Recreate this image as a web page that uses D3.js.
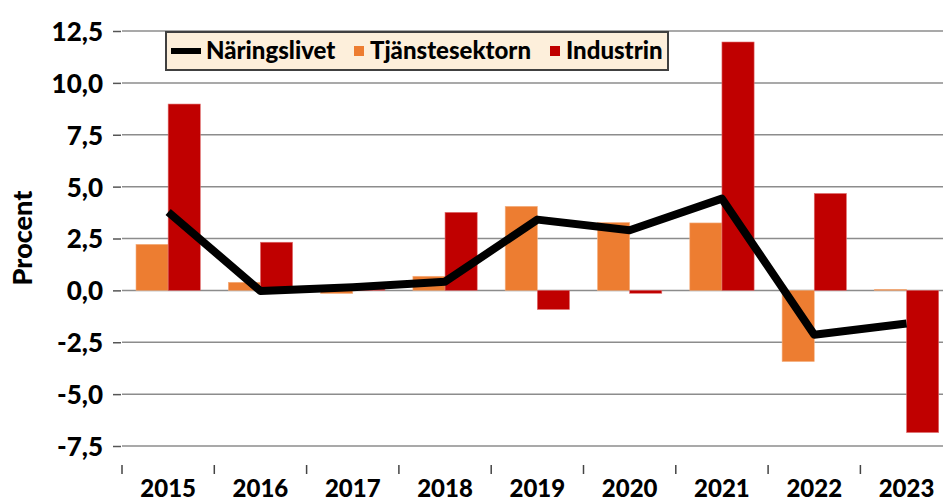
<!DOCTYPE html>
<html>
<head>
<meta charset="utf-8">
<script src="https://cdn.jsdelivr.net/npm/d3@7"></script>
<style>
  body { margin: 0; background: #fff; }
  svg { display: block; overflow: hidden; }
  text { font-family: Lato, "Open Sans", sans-serif; font-weight: 900; fill: #000; }
</style>
</head>
<body>
<svg id="chart" width="943" height="503"></svg>
<script>
var years = ["2015", "2016", "2017", "2018", "2019", "2020", "2021", "2022", "2023"];
var naringslivet = [3.78, -0.03, 0.15, 0.42, 3.41, 2.9, 4.42, -2.14, -1.6];
var tjanstesektorn = [2.22, 0.39, -0.15, 0.68, 4.05, 3.27, 3.25, -3.43, 0.05];
var industrin = [8.98, 2.32, 0.06, 3.76, -0.92, -0.14, 11.97, 4.67, -6.85];
var yTicks = [-7.5, -5, -2.5, 0, 2.5, 5, 7.5, 10, 12.5];

var svg = d3.select("#chart"),
    left = 122, top = 12, bottom = 465,
    band = 92.3;

var x = d3.scaleBand().domain(years).range([left, left + band * years.length]);
var xs = d3.scaleBand().domain(["t", "i"]).range([14, x.bandwidth() - 14]);
var y = d3.scaleLinear().domain([-7.5, 12.5]).range([446, 31]);
var fmt = function(d) { return d3.format(".1f")(d).replace(".", ",").replace("−", "-"); };

// gridlines
svg.append("g")
  .selectAll("line")
  .data(yTicks)
  .enter().append("line")
    .attr("x1", left).attr("x2", 943)
    .attr("y1", function(d) { return y(d); })
    .attr("y2", function(d) { return y(d); })
    .attr("stroke", "#8c8c8c")
    .attr("stroke-width", 1.5);

// bars
var bars = svg.append("g");
bars.selectAll(".t")
  .data(tjanstesektorn)
  .enter().append("rect")
    .attr("x", function(d, i) { return x(years[i]) + xs("t"); })
    .attr("y", function(d) { return y(Math.max(0, d)); })
    .attr("width", xs.bandwidth())
    .attr("height", function(d) { return Math.abs(y(d) - y(0)); })
    .attr("fill", "#ed7d31")
    .attr("stroke", "#f4b183")
    .attr("stroke-width", 0.6);

bars.selectAll(".i")
  .data(industrin)
  .enter().append("rect")
    .attr("x", function(d, i) { return x(years[i]) + xs("i"); })
    .attr("y", function(d) { return y(Math.max(0, d)); })
    .attr("width", xs.bandwidth())
    .attr("height", function(d) { return Math.abs(y(d) - y(0)); })
    .attr("fill", "#c00000")
    .attr("stroke", "#e07070")
    .attr("stroke-width", 0.6);

// line
var line = d3.line()
  .x(function(d, i) { return x(years[i]) + x.bandwidth() / 2; })
  .y(function(d) { return y(d); });

svg.append("path")
  .datum(naringslivet)
  .attr("d", line)
  .attr("fill", "none")
  .attr("stroke", "#000")
  .attr("stroke-width", 8)
  .attr("stroke-linejoin", "round");

// y axis
var yAxis = svg.append("g")
  .attr("transform", "translate(" + (left - 1) + ",0)")
  .call(d3.axisLeft(y).tickValues(yTicks).tickFormat(fmt).tickSize(8).tickPadding(10));
yAxis.select(".domain").remove();
yAxis.selectAll("line").attr("stroke", "#555").attr("stroke-width", 1.5);
yAxis.selectAll("text").style("font-size", "26px").attr("dy", "0.36em");

// x axis ticks
var xt = years.map(function(d) { return x(d); });
svg.append("g")
  .selectAll("line")
  .data(xt)
  .enter().append("line")
    .attr("x1", function(d) { return d; }).attr("x2", function(d) { return d; })
    .attr("y1", bottom).attr("y2", bottom + 9)
    .attr("stroke", "#444").attr("stroke-width", 1.5);

svg.append("g")
  .selectAll("text")
  .data(years)
  .enter().append("text")
    .attr("x", function(d) { return x(d) + x.bandwidth() / 2; })
    .attr("y", 497)
    .attr("text-anchor", "middle")
    .style("font-size", "24px")
    .text(function(d) { return d; });

// frame
svg.append("path")
  .attr("d", "M943," + top + "H" + (left - 1) + "V" + bottom + "H943")
  .attr("fill", "none")
  .attr("stroke", "#404040")
  .attr("stroke-width", 3);

// y label
svg.append("text")
  .attr("transform", "translate(32,238) rotate(-90)")
  .attr("text-anchor", "middle")
  .style("font-size", "27px")
  .text("Procent");

// legend
var lg = svg.append("g");
lg.append("rect")
  .attr("x", 166).attr("y", 32)
  .attr("width", 502).attr("height", 38)
  .attr("fill", "#fdefdb")
  .attr("stroke", "#404040")
  .attr("stroke-width", 2);
lg.append("rect").attr("x", 171).attr("y", 48).attr("width", 30).attr("height", 6).attr("fill", "#000");
lg.append("text").attr("x", 206).attr("y", 59).style("font-size", "24px").text("Näringslivet");
lg.append("rect").attr("x", 354).attr("y", 46).attr("width", 10).attr("height", 10).attr("fill", "#ed7d31");
lg.append("text").attr("x", 370).attr("y", 59).style("font-size", "24px").text("Tjänstesektorn");
lg.append("rect").attr("x", 550).attr("y", 46).attr("width", 10).attr("height", 10).attr("fill", "#c00000");
lg.append("text").attr("x", 566).attr("y", 59).style("font-size", "24px").text("Industrin");
</script>
</body>
</html>
